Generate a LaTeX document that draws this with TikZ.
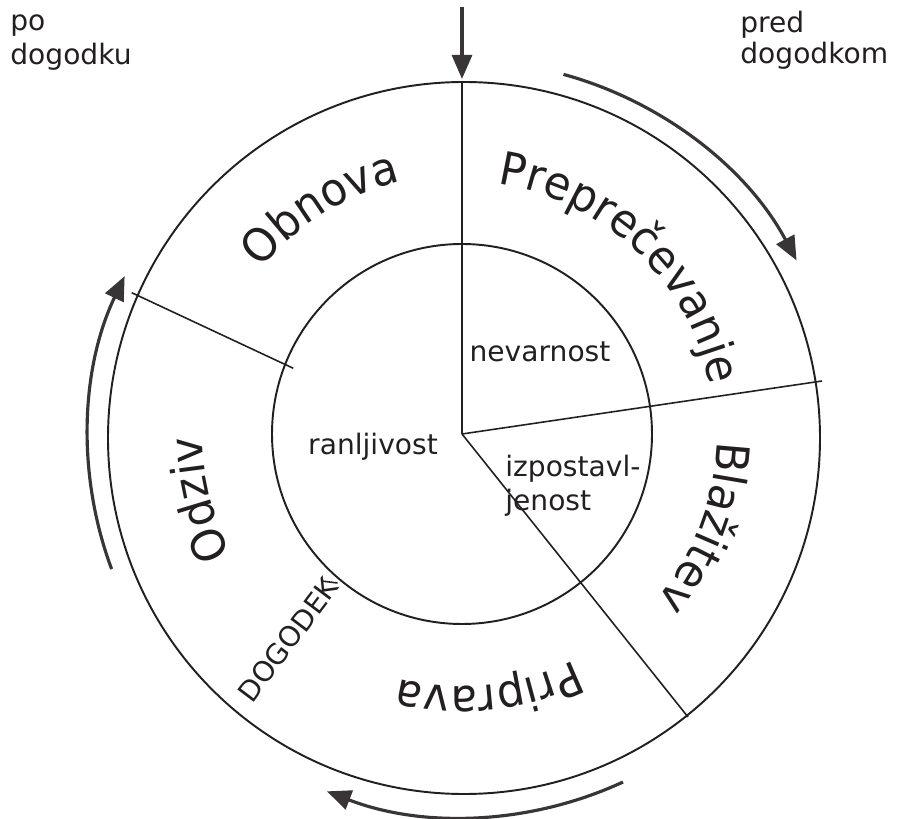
\documentclass[tikz,border=0pt]{standalone}
\usepackage{fontspec}
\setmainfont{DejaVu Sans}
\newfontfamily\bigface[FakeStretch=0.95]{DejaVu Sans}
\usetikzlibrary{arrows.meta,decorations.text}
\definecolor{ink}{HTML}{231F20}
\newcommand\bigfont{\bigface\fontsize{26}{30}\selectfont}
\newcommand\smallfont{\fontsize{16}{19}\selectfont}
\begin{document}
\begin{tikzpicture}[
  ring/.style={draw=ink, line width=1.1pt},
  divider/.style={draw=ink, line width=0.9pt},
  flow/.style={draw=ink!90, line width=1.8pt, -{Triangle[length=0.48cm,width=0.40cm]}},
  lbl/.style={font=\smallfont, text=ink, inner sep=0pt},
  arclabel/.style={decorate, decoration={text along path, text align=center, text color=ink}}
]
\useasboundingbox (0,0) rectangle (17.98,16.36);
\coordinate (O) at (9.28,7.60);
\coordinate (C) at (9.24,7.68);
\draw[ring] (O) circle[radius=7.12cm];
\draw[ring] (C) circle[radius=3.80cm];
\coordinate (top) at (9.24,14.72);
\coordinate (rightend) at (16.44,8.74);
\coordinate (lowend) at (13.76,2.02);
\coordinate (ulout) at (2.634,10.506);
\coordinate (ulin) at (5.866,8.994);
\coordinate (tickA) at (6.43,4.74);
\coordinate (tickB) at (6.75,4.70);
\draw[divider] (C) -- (top);
\draw[divider] (C) -- (rightend);
\draw[divider] (C) -- (lowend);
\draw[divider] (ulout) -- (ulin);
\draw[divider] (tickA) -- (tickB);
% arrows
\coordinate (topstart) at (9.24,16.22);
\coordinate (toptip) at (9.24,14.78);
\draw[flow] (topstart) -- (toptip);
\draw[flow] (O) ++(74.7:7.54) arc[start angle=74.7,end angle=28.1,radius=7.54];
\draw[flow] (O) ++(200.4:7.52) arc[start angle=200.4,end angle=154.5,radius=7.52];
\draw[flow] (O) ++(-65.2:7.58) arc[start angle=-65.2,end angle=-111.2,radius=7.58];
% sector labels along the ring
\path[arclabel, decoration={text={|\bigfont|Obnova}}] (C) ++(152:5.2) arc[start angle=152,end angle=92,radius=5.2];
\path[arclabel, decoration={text={|\bigfont|Preprečevanje}}] (C) ++(93:5.05) arc[start angle=93,end angle=0,radius=5.05];
\path[arclabel, decoration={text={|\bigfont|Blažitev}}] (C) ++(9:5.1) arc[start angle=9,end angle=-51,radius=5.1];
\path[arclabel, decoration={text={|\bigfont|Priprava}}] (C) ++(-54:5.05) arc[start angle=-54,end angle=-114,radius=5.05];
\path[arclabel, decoration={text={|\bigfont|Odziv}}] (C) ++(224:5.2) arc[start angle=224,end angle=164,radius=5.2];
% inner labels
\node[lbl] (nev) at (10.8,9.32) {nevarnost};
\node[lbl] (ran) at (7.46,7.42) {ranljivost};
\node[lbl, align=left, anchor=north west] (izp) at (10.10,7.26) {izpostavl-\\jenost};
\node[lbl, rotate=53] (dog) at (5.76,3.56) {DOGODEK};
% corner labels
\node[lbl, anchor=base west] (po) at (0.20,15.75) {po};
\node[lbl, anchor=base west] (podog) at (0.20,15.06) {dogodku};
\node[lbl, anchor=base west] (pred) at (14.80,15.70) {pred};
\node[lbl, anchor=base west] (preddog) at (14.80,15.08) {dogodkom};
\end{tikzpicture}
\end{document}
